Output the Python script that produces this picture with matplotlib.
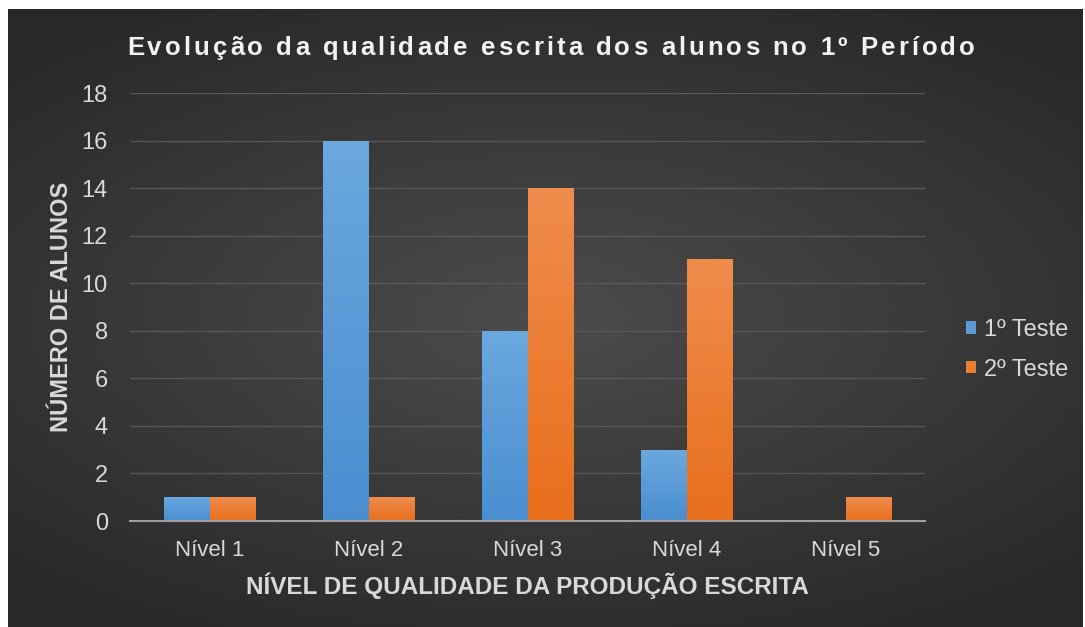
import numpy as np
import matplotlib
matplotlib.use("Agg")
import matplotlib.pyplot as plt

plt.rcParams['font.family'] = ['Liberation Sans', 'DejaVu Sans']

niveis = ["Nível 1", "Nível 2", "Nível 3", "Nível 4", "Nível 5"]
teste1 = [1, 16, 8, 3, 0]
teste2 = [1, 1, 14, 11, 1]
series_names = ["1º Teste", "2º Teste"]
title = "Evolução da qualidade escrita dos alunos no 1º Período"

W, H = 1085, 627
fig = plt.figure(figsize=(W / 100, H / 100), dpi=100, facecolor="white")

# dark radial background of the chart area
bg = fig.add_axes([8 / W, 0, (W - 10) / W, (H - 9) / H])
yy, xx = np.mgrid[-1:1:300j, -1:1:500j]
r = np.sqrt((xx * 0.9) ** 2 + (yy * 1.1) ** 2)
r = np.clip(r / 1.3, 0, 1)
c0, c1 = np.array([0x4c, 0x4c, 0x4c]) / 255, np.array([0x28, 0x28, 0x28]) / 255
img = c0[None, None, :] * (1 - r[..., None]) + c1[None, None, :] * r[..., None]
bg.imshow(img, aspect="auto", extent=[0, 1, 0, 1])
bg.set_axis_off()

ax = fig.add_axes([130 / W, (H - 521) / H, (925 - 130) / W, (521 - 93) / H])
ax.patch.set_alpha(0)

x = np.arange(len(niveis))
w = 0.285
b1 = ax.bar(x - w / 2, teste1, w, color="#5b9bd5", label=series_names[0], zorder=3)
b2 = ax.bar(x + w / 2, teste2, w, color="#ed7d31", label=series_names[1], zorder=3)

# soft vertical gradient on bars
grad = np.linspace(0, 1, 100)[:, None]
for bars, top, bot in [(b1, "#6aa8de", "#4a8ed0"), (b2, "#f08c4c", "#e86f1c")]:
    ct = np.array(matplotlib.colors.to_rgb(top))
    cb = np.array(matplotlib.colors.to_rgb(bot))
    gimg = cb[None, None, :] * (1 - grad[..., None]) + ct[None, None, :] * grad[..., None]
    for p in bars:
        if p.get_height() <= 0:
            continue
        x0, y0 = p.get_x(), p.get_y()
        im = ax.imshow(gimg, aspect="auto", origin="lower",
                       extent=[x0, x0 + p.get_width(), y0, y0 + p.get_height()], zorder=3.5)
        im.set_clip_path(p)

ax.set_xlim(-0.5, 4.5)
ax.set_ylim(0, 18)
ax.set_yticks(range(0, 19, 2))
ax.set_xticks(x)
ax.set_xticklabels(niveis)
ax.yaxis.grid(True, color="#575757", linewidth=1, zorder=0)
ax.set_axisbelow(True)
for s in ["top", "right", "left"]:
    ax.spines[s].set_visible(False)
ax.spines["bottom"].set_color("#a0a0a0")
ax.spines["bottom"].set_linewidth(1.5)
ax.spines["bottom"].set_zorder(4)
ax.tick_params(axis="both", length=0, colors="#d9d9d9")
ax.tick_params(axis="y", labelsize=17, pad=16)
ax.tick_params(axis="x", labelsize=16, pad=14)

ax.set_ylabel("NÚMERO DE ALUNOS", fontsize=17, fontweight="bold", color="#d9d9d9", labelpad=6)
ax.set_xlabel("NÍVEL DE QUALIDADE DA PRODUÇÃO ESCRITA", fontsize=17.5, fontweight="bold",
              color="#d9d9d9", labelpad=8)

# title with letter spacing, drawn glyph by glyph
tkw = dict(fontsize=18.5, fontweight="bold", color="#f2f2f2")
rend = fig.canvas.get_renderer()


def text_w(s):
    t = fig.text(0, 0, s, **tkw)
    wd = t.get_window_extent(rend).width
    t.remove()
    return wd


base = text_w("xx")
adv = [text_w("x" + ch + "x") - base for ch in title]
target = 848
gap = (target - sum(adv)) / (len(title) - 1)
xpos = 551 - target / 2
for ch, a in zip(title, adv):
    fig.text(xpos / W, 1 - 48 / H, ch, ha="left", va="center", **tkw)
    xpos += a + gap

leg = ax.legend(loc="center left", bbox_to_anchor=(1.025, 0.40), frameon=False,
                fontsize=17, labelcolor="#d9d9d9", handlelength=0.42, handleheight=0.42,
                handletextpad=0.35, labelspacing=0.75)

fig.savefig("out.png", dpi=100, facecolor="white")
